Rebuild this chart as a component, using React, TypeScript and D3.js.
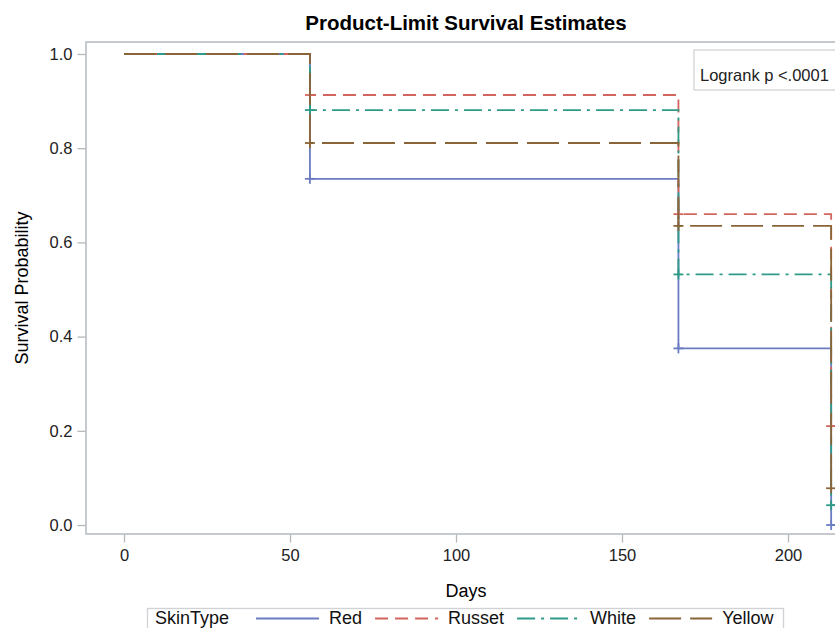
import React, { useEffect, useRef } from 'react';
import * as d3 from 'd3';

// Kaplan-Meier curves by skin type

const skinTypes = ['Red', 'Russet', 'White', 'Yellow'];
const eventDays = [0, 56, 167, 213];
const survRed = [1.0, 0.735, 0.375, 0.0];
const survRusset = [1.0, 0.913, 0.66, 0.21];
const survWhite = [1.0, 0.881, 0.532, 0.042];
const survYellow = [1.0, 0.811, 0.635, 0.078];
const xTicks = [0, 50, 100, 150, 200];
const yTicks = [0, 0.2, 0.4, 0.6, 0.8, 1.0];
const pValueText = 'Logrank p <.0001';

const colors = ['#6b7cc2', '#d2655d', '#2e9a87', '#8a6538'];
const dashes = ['none', '13,7', '18,6,3,6', '32,9'];

const FONT = '"Liberation Sans", Arial, sans-serif';

const App = () => {
  const svgRef = useRef<SVGSVGElement>(null);

  useEffect(() => {
    const svg = d3.select(svgRef.current);
    svg.selectAll('*').remove();

    const frame = { left: 86, right: 846, top: 42, bottom: 534 };
    const x = d3.scaleLinear().domain([0, 200]).range([124, 788]);
    const y = d3.scaleLinear().domain([0, 1]).range([525, 54]);
    const grey = '#b4b8bd';

    // title
    svg.append('text')
      .attr('x', (frame.left + frame.right) / 2)
      .attr('y', 30)
      .attr('text-anchor', 'middle')
      .attr('font-family', FONT)
      .attr('font-weight', 'bold')
      .attr('font-size', 20.5)
      .text('Product-Limit Survival Estimates');

    // frame
    svg.append('rect')
      .attr('x', frame.left)
      .attr('y', frame.top)
      .attr('width', frame.right - frame.left)
      .attr('height', frame.bottom - frame.top)
      .attr('fill', 'none')
      .attr('stroke', grey)
      .attr('stroke-width', 1.5);

    // y axis
    const yAxis = svg.append('g')
      .attr('transform', `translate(${frame.left - 0.5},0)`)
      .call(d3.axisLeft(y).tickValues(yTicks).tickFormat(d3.format('.1f')).tickSize(8).tickPadding(5));
    yAxis.select('.domain').remove();
    yAxis.selectAll('line').attr('stroke', grey).attr('stroke-width', 1.3);
    yAxis.selectAll('text').attr('font-family', FONT).attr('font-size', 16.5).attr('fill', '#222');

    // x axis
    const xAxis = svg.append('g')
      .attr('transform', `translate(0,${frame.bottom + 0.5})`)
      .call(d3.axisBottom(x).tickValues(xTicks).tickFormat(d3.format('d')).tickSize(8).tickPadding(7));
    xAxis.select('.domain').remove();
    xAxis.selectAll('line').attr('stroke', grey).attr('stroke-width', 1.3);
    xAxis.selectAll('text').attr('font-family', FONT).attr('font-size', 16.5).attr('fill', '#222');

    // axis labels
    svg.append('text')
      .attr('x', (frame.left + frame.right) / 2)
      .attr('y', 597)
      .attr('text-anchor', 'middle')
      .attr('font-family', FONT)
      .attr('font-size', 18)
      .text('Days');

    svg.append('text')
      .attr('transform', `translate(28,${(frame.top + frame.bottom) / 2}) rotate(-90)`)
      .attr('text-anchor', 'middle')
      .attr('font-family', FONT)
      .attr('font-size', 18)
      .text('Survival Probability');

    // curves
    const series = [survRed, survRusset, survWhite, survYellow];
    const line = d3.line<[number, number]>()
      .x(d => x(d[0]))
      .y(d => y(d[1]))
      .curve(d3.curveStepAfter);

    series.forEach((vals, i) => {
      const pts: [number, number][] = eventDays.map((d, k) => [d, vals[k]]);
      pts.push([225, vals[vals.length - 1]]);
      svg.append('path')
        .attr('d', line(pts))
        .attr('fill', 'none')
        .attr('stroke', colors[i])
        .attr('stroke-width', 1.8)
        .attr('stroke-dasharray', dashes[i]);

      // censor marks
      const cens = eventDays.slice(1).map((d, k) => [d, vals[k + 1]]);
      const g = svg.append('g').attr('stroke', colors[i]).attr('stroke-width', 1.8);
      g.selectAll('line.h')
        .data(cens)
        .enter()
        .append('line')
        .attr('x1', d => x(d[0]) - 5)
        .attr('x2', d => x(d[0]) + 5)
        .attr('y1', d => y(d[1]))
        .attr('y2', d => y(d[1]));
      g.selectAll('line.v')
        .data(cens)
        .enter()
        .append('line')
        .attr('x1', d => x(d[0]))
        .attr('x2', d => x(d[0]))
        .attr('y1', d => y(d[1]) - 5)
        .attr('y2', d => y(d[1]) + 5);
    });

    // logrank box
    svg.append('rect')
      .attr('x', 694)
      .attr('y', 50)
      .attr('width', 160)
      .attr('height', 40)
      .attr('fill', 'white')
      .attr('stroke', '#d0d3d6')
      .attr('stroke-width', 1.3);
    svg.append('text')
      .attr('x', 700)
      .attr('y', 81)
      .attr('font-family', FONT)
      .attr('font-size', 16.5)
      .attr('fill', '#222')
      .text(pValueText);

    // legend
    const leg = svg.append('g');
    leg.append('rect')
      .attr('x', 147.5)
      .attr('y', 608.5)
      .attr('width', 636)
      .attr('height', 40)
      .attr('fill', 'white')
      .attr('stroke', '#cfd2d6')
      .attr('stroke-width', 1.3);
    const title = leg.append('text')
      .attr('x', 155)
      .attr('y', 624)
      .attr('font-family', FONT)
      .attr('font-size', 18)
      .attr('fill', '#111')
      .text('SkinType');
    let cx = 155 + (title.node() as SVGTextElement).getComputedTextLength() + 27;
    skinTypes.forEach((name, i) => {
      leg.append('line')
        .attr('x1', cx)
        .attr('x2', cx + 63)
        .attr('y1', 618.5)
        .attr('y2', 618.5)
        .attr('stroke', colors[i])
        .attr('stroke-width', 2)
        .attr('stroke-dasharray', dashes[i]);
      const t = leg.append('text')
        .attr('x', cx + 73)
        .attr('y', 624)
        .attr('font-family', FONT)
        .attr('font-size', 18)
        .attr('fill', '#111')
        .text(name);
      cx += 73 + (t.node() as SVGTextElement).getComputedTextLength() + 13;
    });
  }, []);

  return (
    <div style={{ position: 'absolute', left: 0, top: 0, background: 'white' }}>
      <svg ref={svgRef} width={835} height={628} style={{ display: 'block' }} />
    </div>
  );
};

export default App;
